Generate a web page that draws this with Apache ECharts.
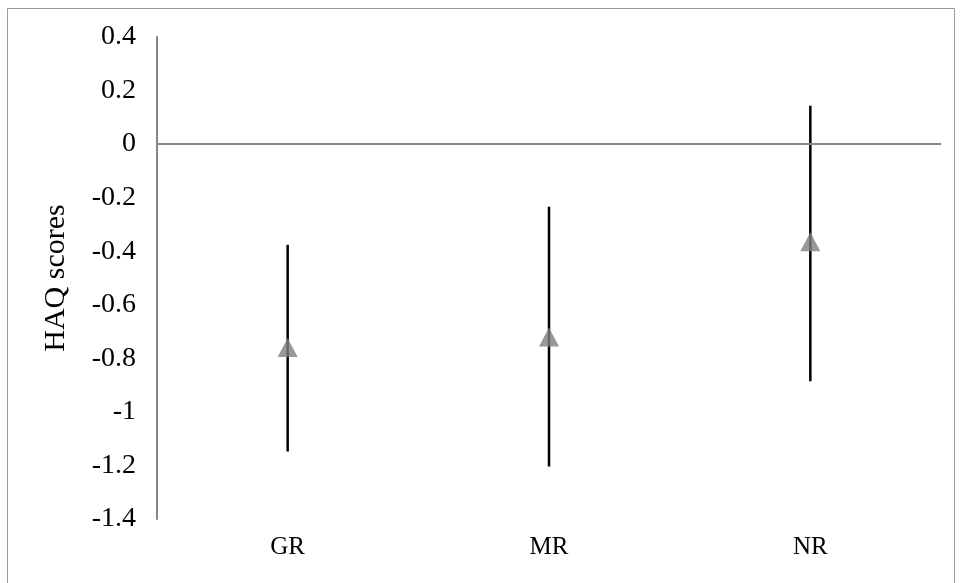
<!DOCTYPE html>
<html>
<head>
<meta charset="utf-8">
<script src="https://cdn.jsdelivr.net/npm/echarts@6/dist/echarts.min.js"></script>
<style>
  html, body { margin: 0; padding: 0; background: #fff; }
  #chart { width: 960px; height: 583px; }
</style>
</head>
<body>
<div id="chart"></div>
<script>
// Groups and their HAQ score change: point estimate with lower/upper interval bounds
const categories = ['GR', 'MR', 'NR'];
const means = [-0.76, -0.72, -0.365];
const lowerBounds = [-1.148, -1.204, -0.886];
const upperBounds = [-0.376, -0.234, 0.143];

const yTicks = { min: -1.4, max: 0.4, interval: 0.2 };
const axisFont = 'Liberation Serif, Times New Roman, serif';

const chart = echarts.init(document.getElementById('chart'), null, { renderer: 'canvas' });

const intervalData = categories.map((c, i) => [i, lowerBounds[i], upperBounds[i]]);
const meanData = categories.map((c, i) => [i, means[i]]);

chart.setOption({
  animation: false,
  backgroundColor: '#fff',
  graphic: [{
    type: 'rect',
    shape: { x: 7.5, y: 8.5, width: 947, height: 600 },
    style: { fill: 'none', stroke: '#9a9a9a', lineWidth: 1 },
    silent: true
  }],
  grid: { left: 157, right: 19, top: 37, bottom: 64 },
  xAxis: {
    type: 'category',
    data: categories,
    boundaryGap: true,
    axisLine: { show: false, onZero: false },
    axisTick: { show: false },
    splitLine: { show: false },
    axisLabel: { color: '#000', fontFamily: axisFont, fontSize: 25, margin: 16 }
  },
  yAxis: {
    type: 'value',
    min: yTicks.min,
    max: yTicks.max,
    interval: yTicks.interval,
    name: 'HAQ scores',
    nameLocation: 'middle',
    nameGap: 86,
    nameTextStyle: { color: '#000', fontFamily: axisFont, fontSize: 30 },
    axisLine: { show: true, lineStyle: { color: '#868686', width: 2 } },
    axisTick: { show: false },
    splitLine: { show: false },
    axisLabel: {
      color: '#000', fontFamily: axisFont, fontSize: 28, margin: 21,
      formatter: v => String(Math.round(v * 10) / 10)
    }
  },
  series: [
    {
      // vertical interval lines
      type: 'custom',
      data: intervalData,
      renderItem: (params, api) => {
        const x = api.value(0);
        const top = api.coord([x, api.value(2)]);
        const bottom = api.coord([x, api.value(1)]);
        return {
          type: 'line',
          shape: { x1: top[0], y1: top[1], x2: bottom[0], y2: bottom[1] },
          style: { stroke: '#000', lineWidth: 2.5 }
        };
      },
      encode: { x: 0, y: [1, 2] },
      z: 2,
      markLine: {
        silent: true,
        symbol: ['none', 'none'],
        label: { show: false },
        lineStyle: { color: '#868686', width: 2, type: 'solid' },
        data: [{ yAxis: 0 }]
      }
    },
    {
      type: 'scatter',
      data: meanData,
      symbol: 'triangle',
      symbolSize: [20, 19],
      itemStyle: { color: '#808080' },
      z: 3
    }
  ]
});
</script>
</body>
</html>
